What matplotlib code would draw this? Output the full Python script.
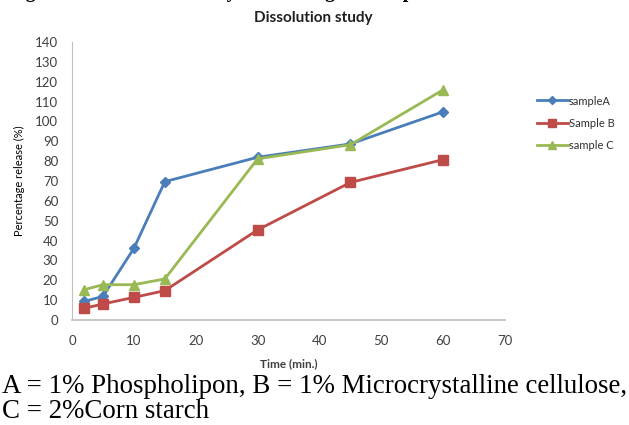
import matplotlib
matplotlib.use("Agg")
import matplotlib.pyplot as plt

time_min = [2, 5, 10, 15, 30, 45, 60]
sample_a = [9.4, 11.9, 36.1, 69.7, 82.0, 88.7, 104.9]
sample_b = [5.9, 8.1, 11.4, 14.8, 45.4, 69.3, 80.8]
sample_c = [15.3, 17.8, 17.8, 20.7, 81.2, 88.3, 116.0]
labels = ["sampleA", "Sample B", "sample C"]
y_ticks = list(range(0, 141, 10))
x_ticks = list(range(0, 71, 10))

fig = plt.figure(figsize=(6.29, 4.25), dpi=100)
ax = fig.add_axes([0.1145, 0.247, 0.6885, 0.654])

ax.plot(time_min, sample_a, color="#4A7EBB", lw=2, marker="D", ms=5, label=labels[0])
ax.plot(time_min, sample_b, color="#BE4B48", lw=2, marker="s", ms=7.5, label=labels[1])
ax.plot(time_min, sample_c, color="#98B954", lw=2, marker="^", ms=7, label=labels[2])

ax.set_xlim(0, 70)
ax.set_ylim(0, 140)
ax.set_xticks(x_ticks)
ax.set_yticks(y_ticks)
ax.tick_params(axis="y", length=0, labelsize=9.5, labelcolor="#404040", pad=10)
ax.tick_params(axis="x", length=0, labelsize=9.5, labelcolor="#404040", pad=11)
for lab in ax.get_xticklabels() + ax.get_yticklabels():
    lab.set_family("Lato")
for s in ["top", "right"]:
    ax.spines[s].set_visible(False)
ax.spines["left"].set_color("#BFBFBF")
ax.spines["bottom"].set_color("#BFBFBF")
ax.spines["bottom"].set_linewidth(1.2)

ax.set_ylabel("Percentage release (%)", family="Lato", fontsize=8, labelpad=7)
ax.set_xlabel("Time (min.)", family="Lato", fontsize=8.5, fontweight="bold", color="#404040", labelpad=8)
fig.text(0.498, 0.957, "Dissolution study", family="Lato", fontsize=11, fontweight="bold",
         ha="center", va="center", color="#202020")

leg = fig.legend(loc="center left", bbox_to_anchor=(0.853, 0.71), frameon=False,
                 prop={"family": "Lato", "size": 8}, handlelength=2.8, handletextpad=0.1,
                 labelspacing=1.0, handleheight=0.9, borderaxespad=0, borderpad=0,
                 markerscale=0.85)
for t in leg.get_texts():
    t.set_color("#303030")

# caption cut off at the top of the image
fig.text(0.012, 1.006, "Figure 4: Dissolution study of the drug release profile",
         family="Liberation Serif", fontweight="bold", fontsize=14.2, va="baseline")

fig.text(0.003, 0.09, "A = 1% Phospholipon, B = 1% Microcrystalline cellulose,",
         family="Liberation Serif", fontsize=19.4, va="center")
fig.text(0.003, 0.031, "C = 2%Corn starch",
         family="Liberation Serif", fontsize=19.4, va="center")

fig.savefig("out.png", dpi=100)
